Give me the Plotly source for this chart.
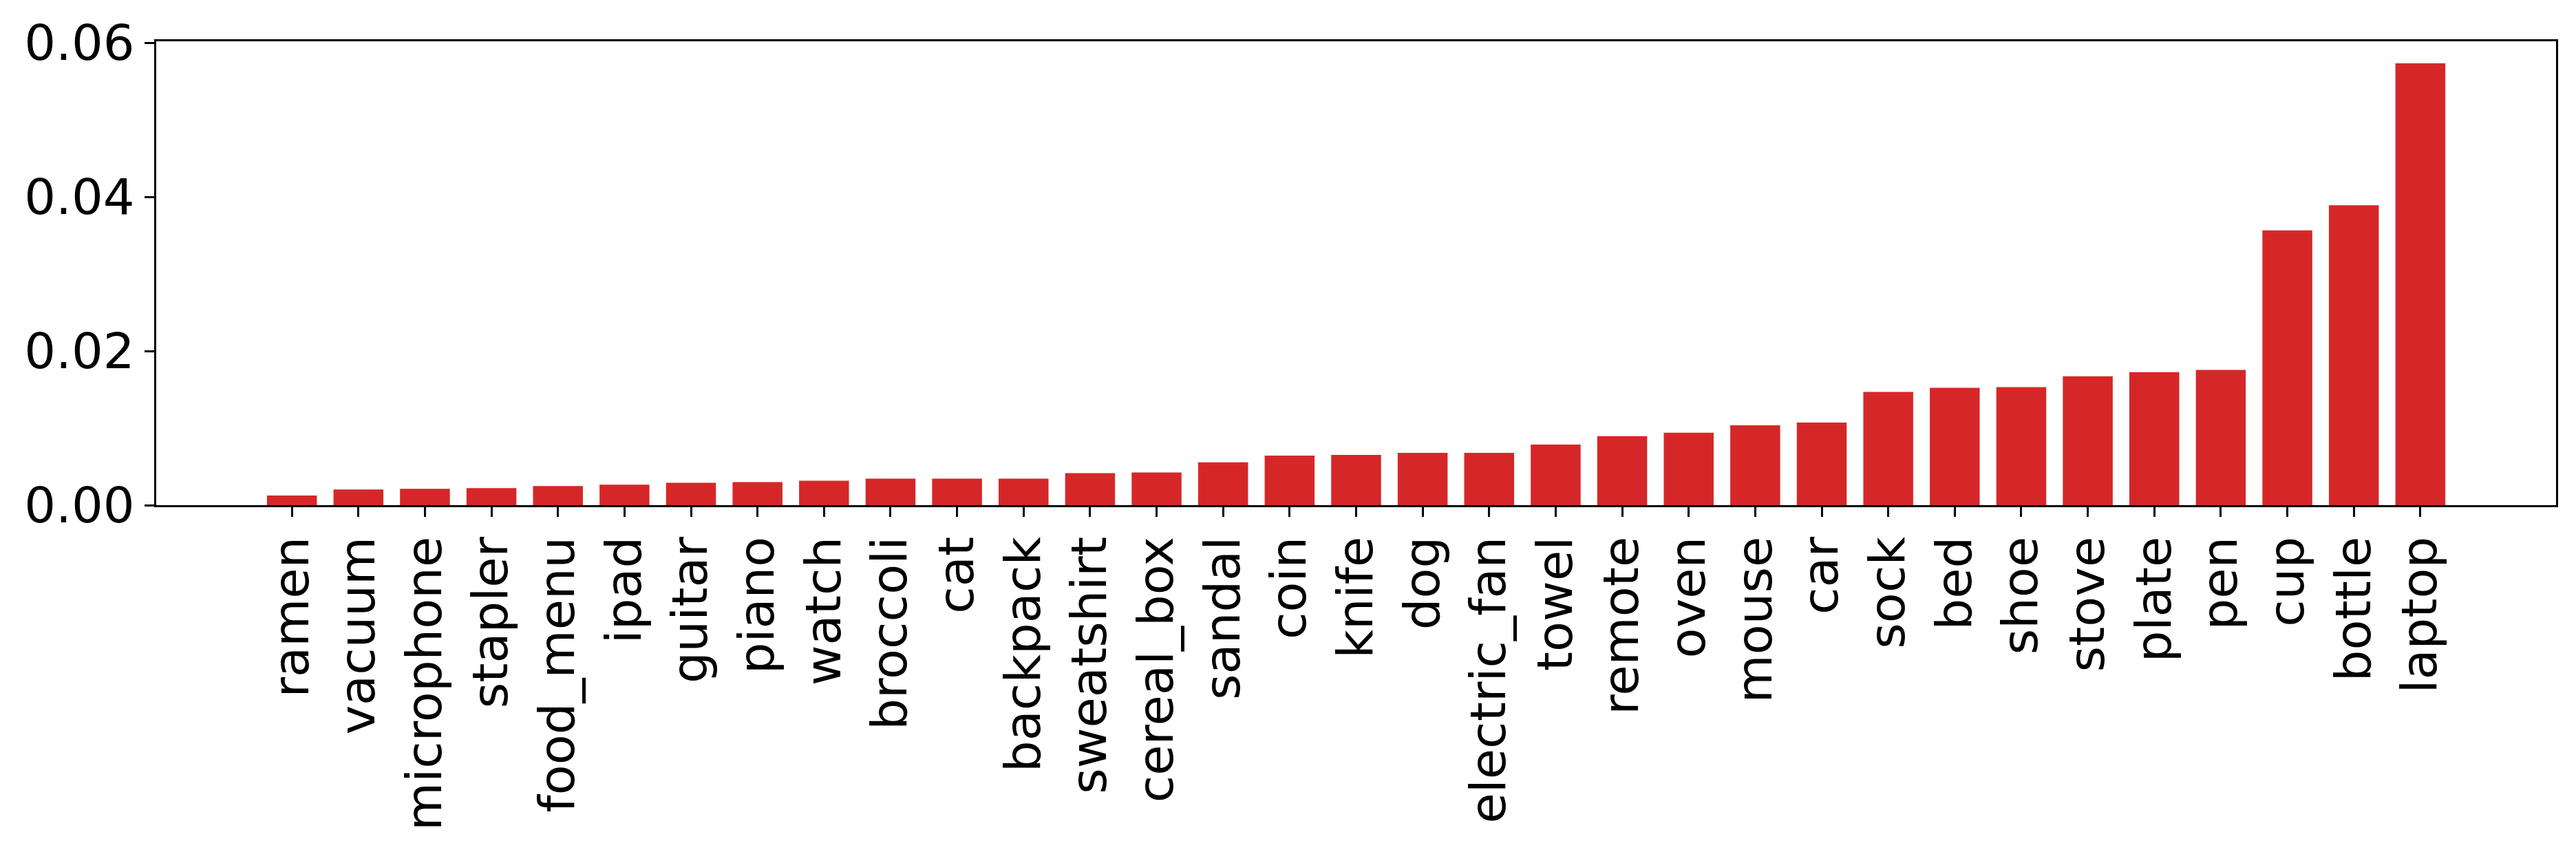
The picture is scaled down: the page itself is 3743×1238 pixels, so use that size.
import plotly.graph_objects as go

# Category labels and bar values
labels = [
    "ramen", "vacuum", "microphone", "stapler", "food_menu", "ipad", "guitar",
    "piano", "watch", "broccoli", "cat", "backpack", "sweatshirt", "cereal_box",
    "sandal", "coin", "knife", "dog", "electric_fan", "towel", "remote", "oven",
    "mouse", "car", "sock", "bed", "shoe", "stove", "plate", "pen", "cup",
    "bottle", "laptop",
]
values = [
    0.00124, 0.00203, 0.00212, 0.00221, 0.00247, 0.00265, 0.00291,
    0.00300, 0.00318, 0.00344, 0.00344, 0.00344, 0.00415, 0.00424,
    0.00556, 0.00644, 0.00653, 0.00679, 0.00679, 0.00785, 0.00896, 0.00940,
    0.01037, 0.01072, 0.01469, 0.01522, 0.01531, 0.01672, 0.01725, 0.01756, 0.03565,
    0.03891, 0.05735,
]
y_ticks = [0.0, 0.02, 0.04, 0.06]

positions = list(range(len(labels)))

fig = go.Figure()
fig.add_trace(
    go.Bar(
        x=positions,
        y=values,
        width=0.75,
        marker={"color": "#d62728", "line": {"width": 0}},
    )
)

axis_font = {"family": "DejaVu Sans", "size": 72, "color": "black"}

# page body keeps its default 8px margin, so the figure is a bit smaller
fig.update_layout(
    width=3727,
    height=1222,
    margin={"l": 219, "r": 21, "t": 49, "b": 496},
    plot_bgcolor="white",
    paper_bgcolor="white",
    showlegend=False,
    font=axis_font,
)
fig.update_xaxes(
    range=[-2.04, len(labels) + 1.04],
    tickmode="array",
    tickvals=positions,
    ticktext=labels,
    tickangle=-90,
    tickfont=axis_font,
    ticks="outside",
    ticklen=14,
    tickwidth=3,
    tickcolor="black",
    showline=True,
    linecolor="black",
    linewidth=3,
    mirror=True,
    showgrid=False,
    zeroline=False,
)
fig.update_yaxes(
    range=[0, 0.0602],
    tickmode="array",
    tickvals=y_ticks,
    ticktext=[f"{v:.2f}" for v in y_ticks],
    tickfont=axis_font,
    ticks="outside",
    ticklen=14,
    tickwidth=3,
    tickcolor="black",
    showline=True,
    linecolor="black",
    linewidth=3,
    mirror=True,
    showgrid=False,
    zeroline=False,
)

fig.write_html("out.html")
